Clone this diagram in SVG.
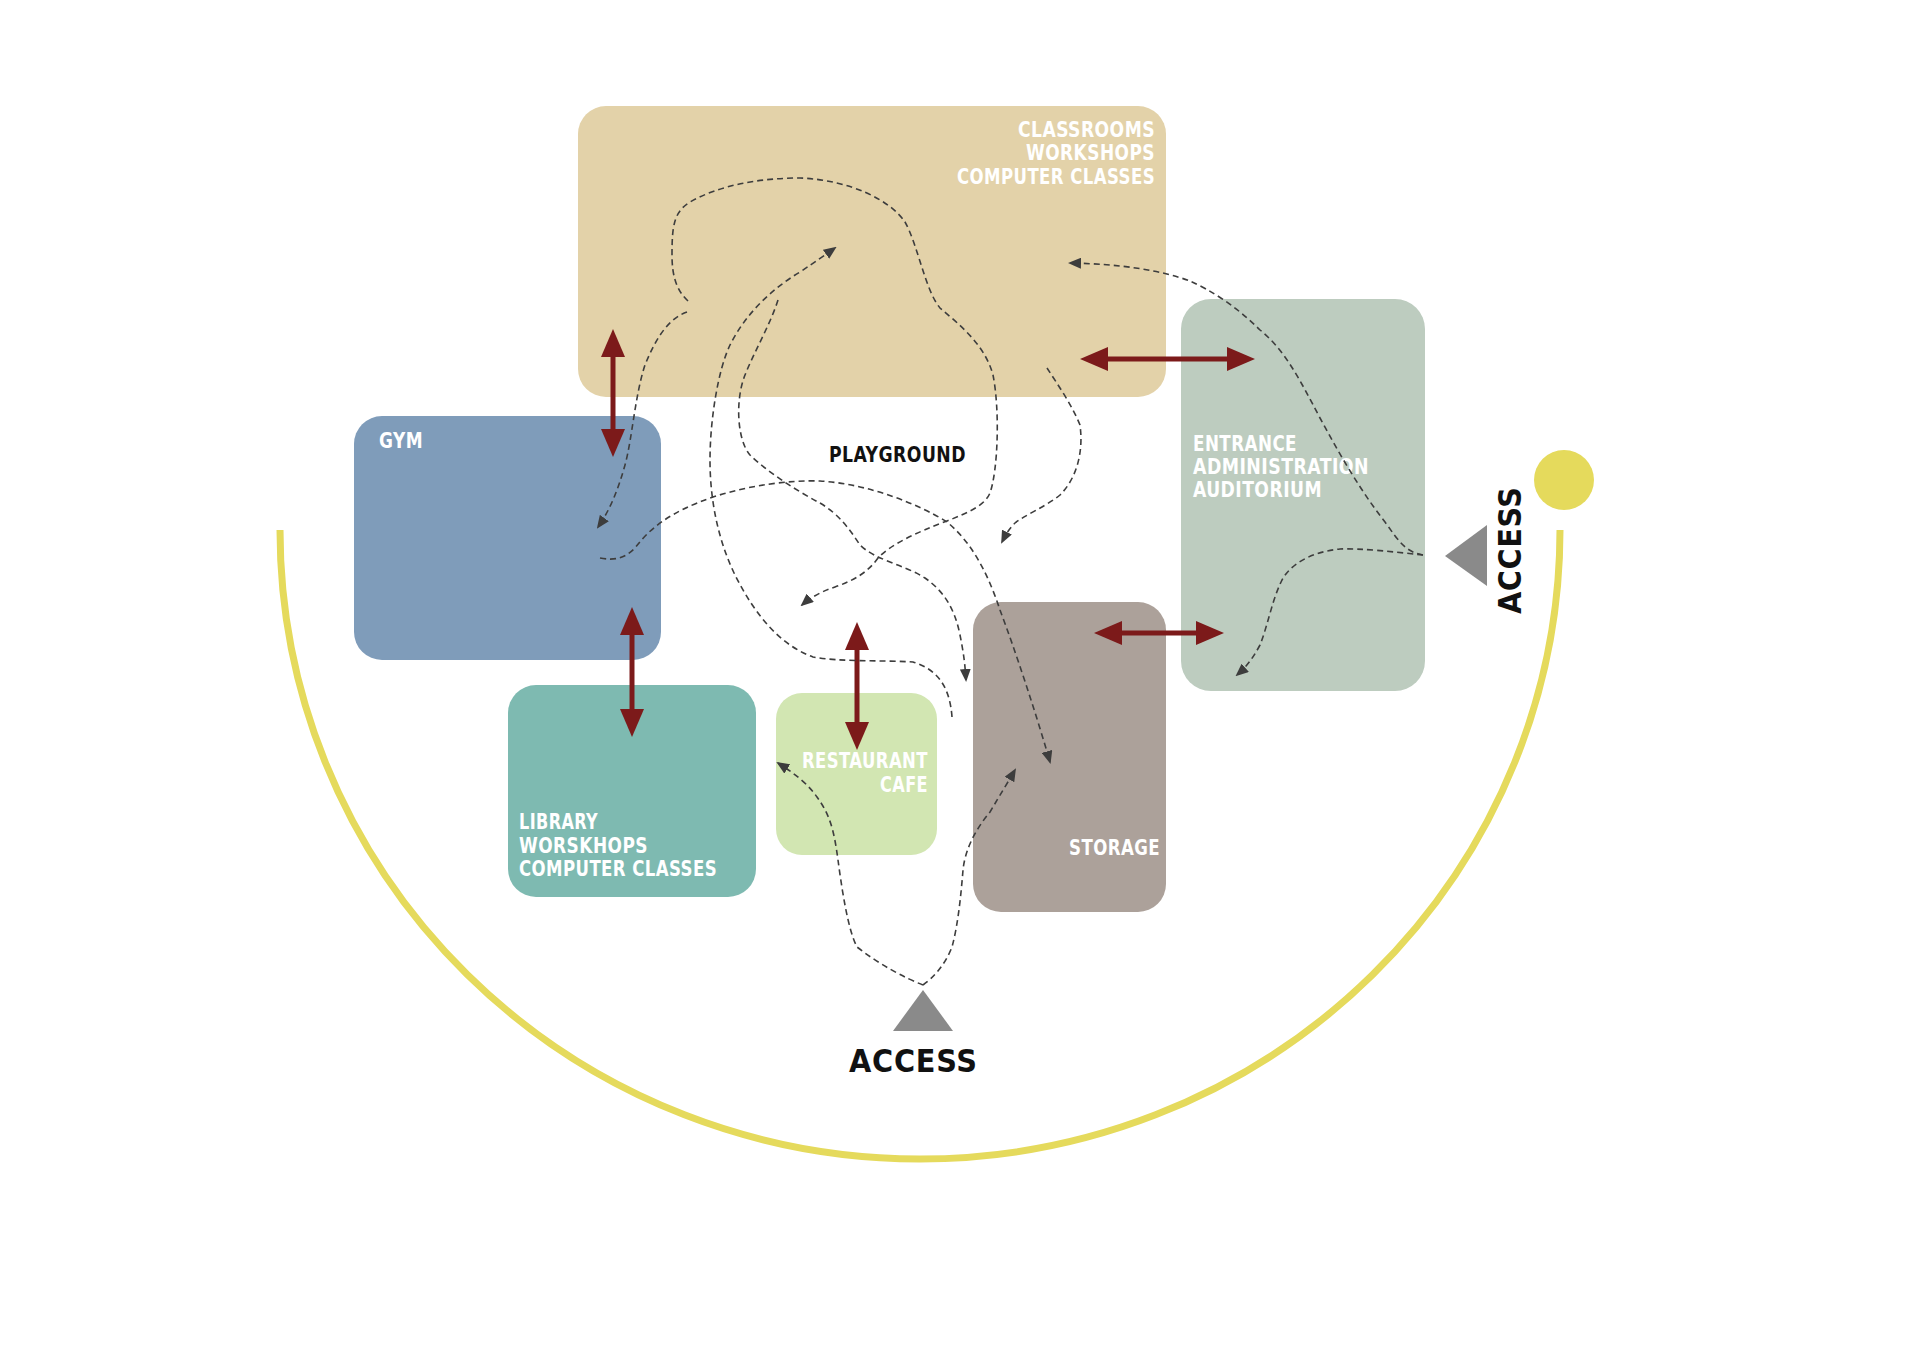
<svg xmlns="http://www.w3.org/2000/svg" width="1920" height="1357" viewBox="0 0 1920 1357">
<style>
.lbl{font-family:"Liberation Sans Narrow","DejaVu Sans Condensed","Liberation Sans",Arial,sans-serif;font-weight:bold;font-size:21px;fill:#ffffff;letter-spacing:0.5px}
.dark{fill:#111111}
.acc{font-family:"DejaVu Sans Condensed","DejaVu Sans","Liberation Sans",Arial,sans-serif;font-size:32px;font-weight:bold;fill:#111111}
.red{stroke:#7c1a1a;stroke-width:5;fill:none;marker-start:url(#rh);marker-end:url(#rh)}
.dash{stroke:#3d3d3d;stroke-width:1.6;fill:none;stroke-dasharray:6 4;marker-end:url(#dh)}
</style>
<defs>
<marker id="rh" markerUnits="userSpaceOnUse" markerWidth="28" markerHeight="24" viewBox="0 0 28 24" refX="18" refY="12" orient="auto-start-reverse">
<path d="M0,0 L28,12 L0,24 z" fill="#7c1a1a"/>
</marker>
<marker id="dh" markerUnits="userSpaceOnUse" markerWidth="13" markerHeight="11" viewBox="0 0 13 11" refX="11" refY="5.5" orient="auto">
<path d="M0,0 L13,5.5 L0,11 z" fill="#3d3d3d"/>
</marker>
</defs>
<rect width="1920" height="1357" fill="#ffffff"/>

<g id="boundary">
<path d="M280,530 A640,629 0 0 0 1560,530" fill="none" stroke="#e5da5c" stroke-width="7"/>
<circle cx="1564" cy="480" r="30" fill="#e5da5c"/>
</g>

<g id="classrooms">
<rect x="578" y="106" width="588" height="291" rx="28" fill="#e3d2a9"/>
<text class="lbl" text-anchor="end" x="1155" y="137" textLength="137" lengthAdjust="spacingAndGlyphs">CLASSROOMS</text>
<text class="lbl" text-anchor="end" x="1155" y="160" textLength="129" lengthAdjust="spacingAndGlyphs">WORKSHOPS</text>
<text class="lbl" text-anchor="end" x="1155" y="184" textLength="198" lengthAdjust="spacingAndGlyphs">COMPUTER CLASSES</text>
</g>

<g id="entrance">
<rect x="1181" y="299" width="244" height="392" rx="30" fill="#bdccbf"/>
<text class="lbl" x="1193" y="451" textLength="104" lengthAdjust="spacingAndGlyphs">ENTRANCE</text>
<text class="lbl" x="1193" y="474" textLength="176" lengthAdjust="spacingAndGlyphs">ADMINISTRATION</text>
<text class="lbl" x="1193" y="497" textLength="129" lengthAdjust="spacingAndGlyphs">AUDITORIUM</text>
</g>

<g id="gym">
<rect x="354" y="416" width="307" height="244" rx="28" fill="#7f9cba"/>
<text class="lbl" x="379" y="448" textLength="44" lengthAdjust="spacingAndGlyphs">GYM</text>
</g>

<g id="library">
<rect x="508" y="685" width="248" height="212" rx="28" fill="#7ebab1"/>
<text class="lbl" x="519" y="829" textLength="79" lengthAdjust="spacingAndGlyphs">LIBRARY</text>
<text class="lbl" x="519" y="853" textLength="129" lengthAdjust="spacingAndGlyphs">WORSKHOPS</text>
<text class="lbl" x="519" y="876" textLength="198" lengthAdjust="spacingAndGlyphs">COMPUTER CLASSES</text>
</g>

<g id="restaurant">
<rect x="776" y="693" width="161" height="162" rx="26" fill="#d2e6b2"/>
<text class="lbl" text-anchor="end" x="928" y="768" textLength="126" lengthAdjust="spacingAndGlyphs">RESTAURANT</text>
<text class="lbl" text-anchor="end" x="928" y="792" textLength="48" lengthAdjust="spacingAndGlyphs">CAFE</text>
</g>

<g id="storage">
<rect x="973" y="602" width="193" height="310" rx="28" fill="#aca19a"/>
<text class="lbl" text-anchor="end" x="1160" y="855" textLength="91" lengthAdjust="spacingAndGlyphs">STORAGE</text>
</g>

<g id="playground">
<text class="lbl dark" x="829" y="462" textLength="137" lengthAdjust="spacingAndGlyphs">PLAYGROUND</text>
</g>

<g id="access-bottom">
<polygon points="923,990 953,1031 893,1031" fill="#8a8a8a"/>
<text class="acc" x="849" y="1072" textLength="128" lengthAdjust="spacing">ACCESS</text>
</g>

<g id="access-right">
<polygon points="1445,556 1487,525 1487,586" fill="#8a8a8a"/>
<text class="acc" transform="translate(1521,614) rotate(-90)" x="0" y="0" textLength="127" lengthAdjust="spacing">ACCESS</text>
</g>

<g id="connectors">
<line class="red" x1="613" y1="339" x2="613" y2="447"/>
<line class="red" x1="1090" y1="359" x2="1245" y2="359"/>
<line class="red" x1="1104" y1="633" x2="1214" y2="633"/>
<line class="red" x1="632" y1="617" x2="632" y2="727"/>
<line class="red" x1="857" y1="632" x2="857" y2="740"/>

<path class="dash" d="M688,301 C676,290 672,275 672,255 C672,225 674,212 690,202 C720,185 760,178 800,178 C850,180 890,200 905,222 C918,245 925,290 940,308 C960,325 985,345 993,375 C1000,410 998,470 990,493 C985,505 970,512 947,521 C915,533 890,545 878,558 C868,572 855,580 835,587 C820,592 810,598 802,605"/>
<path class="dash" d="M687,312 C670,318 657,335 645,365 C635,395 632,440 625,465 C618,490 610,510 598,527"/>
<path class="dash" d="M952,717 C950,690 940,670 913,662 C880,660 840,662 813,657 C780,645 755,615 735,575 C718,540 710,500 710,460 C710,420 718,370 730,345 C745,315 770,290 800,272 C815,262 825,255 835,248"/>
<path class="dash" d="M778,300 C770,325 755,350 745,375 C735,400 737,440 750,455 C765,470 795,490 820,503 C840,515 850,530 860,545 C875,560 905,565 925,578 C945,592 955,610 960,635 C964,655 965,665 966,680"/>
<path class="dash" d="M600,558 C615,561 625,558 635,548 C650,528 670,512 713,497 C750,485 790,480 820,481 C870,484 920,505 947,522 C975,545 990,580 1000,610 C1015,650 1035,710 1050,762"/>
<path class="dash" d="M1047,368 C1058,385 1072,405 1080,425 C1084,455 1075,480 1060,495 C1045,507 1025,515 1015,523 C1008,530 1005,536 1002,542"/>
<path class="dash" d="M1423,555 C1405,552 1398,540 1385,522 C1360,490 1340,455 1320,418 C1300,380 1285,350 1260,330 C1235,305 1210,290 1190,281 C1160,270 1120,264 1070,263"/>
<path class="dash" d="M1423,555 C1395,552 1360,548 1340,549 C1310,552 1290,565 1282,580 C1272,600 1268,625 1260,645 C1252,660 1245,668 1237,675"/>
<path class="dash" d="M923,985 C905,978 880,965 857,947 C848,930 842,890 838,860 C834,830 830,815 817,797 C810,787 800,777 778,763"/>
<path class="dash" d="M923,985 C933,978 945,965 952,947 C958,925 961,895 963,870 C965,850 975,830 990,812 C1000,795 1008,782 1015,770"/>
</g>
</svg>
